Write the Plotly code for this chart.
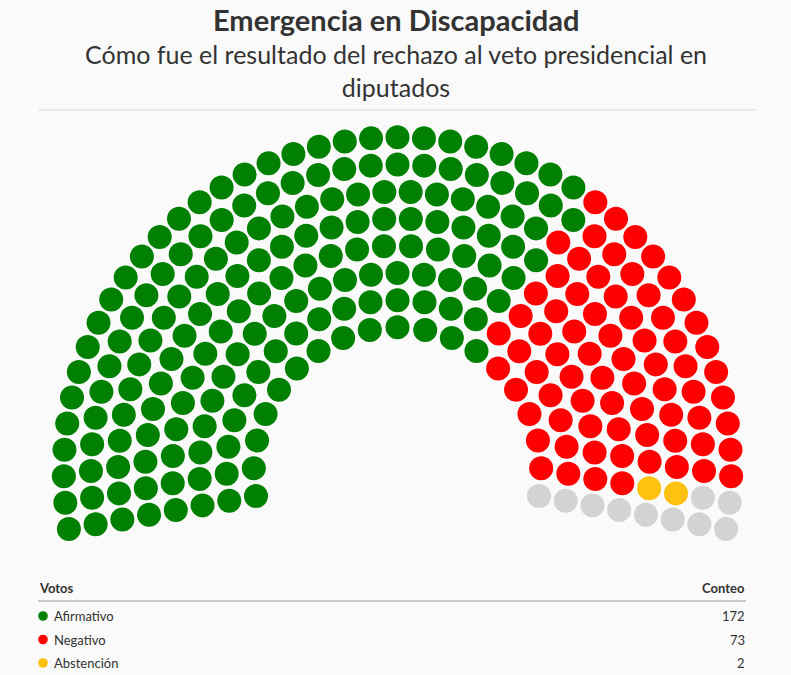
import numpy as np
import plotly.graph_objects as go

# ---- data ----
parties = ["Afirmativo", "Negativo", "Abstención", "Ausente"]
seats = [172, 73, 2, 10]
colors = ["#008000", "#ff0000", "#ffc20e", "#d3d3d3"]
table_rows = 3  # rows visible in the table

title = "Emergencia en Discapacidad"
subtitle = "Cómo fue el resultado del rechazo al veto presidencial en<br>diputados"
col_left = "Votos"
col_right = "Conteo"

# ---- layout geometry (pixels) ----
W, H = 791, 675
cx, cy = 397.5, 471.0          # hemicycle centre in page pixels
n_rows = 8
r_in, r_step = 143.7, 27.14
ang_start, ang_end = 190.0, -10.0
dot = 24

total = sum(seats)
radii = r_in + r_step * np.arange(n_rows)
quota = total * radii / radii.sum()
per_row = np.floor(quota).astype(int)
rem = quota - per_row
for i in np.argsort(-rem)[: total - per_row.sum()]:
    per_row[i] += 1

pts = []
for k, (r, n) in enumerate(zip(radii, per_row)):
    angs = np.linspace(ang_start, ang_end, n)
    for a in angs:
        pts.append((a, -k, r))
pts.sort(key=lambda p: (-p[0], p[1]))
pts = np.array(pts)
ang = np.radians(pts[:, 0])
xs = pts[:, 2] * np.cos(ang)
ys = pts[:, 2] * np.sin(ang)

fig = go.Figure()
start = 0
for name, n, c in zip(parties, seats, colors):
    fig.add_trace(go.Scatter(
        x=xs[start:start + n], y=ys[start:start + n], mode="markers",
        marker=dict(size=dot, color=c, line=dict(width=0)),
        name=name, hoverinfo="name", showlegend=False))
    start += n

font = "Lato, 'Source Sans Pro', sans-serif"
def py(p):
    return 1 - p / H

ann = [
    dict(text=f"<b>{title}</b>", x=0.5, y=py(0.5), yanchor="top", font=dict(size=29, color="#333333")),
    dict(text=subtitle, x=0.5, y=py(71), font=dict(size=25, color="#333333")),
    dict(text=f"<b>{col_left}</b>", x=37 / W, y=py(588), xanchor="left", font=dict(size=13, color="#333333")),
    dict(text=f"<b>{col_right}</b>", x=747 / W, y=py(588), xanchor="right", font=dict(size=13, color="#333333")),
]
shapes = [
    dict(type="line", xref="paper", yref="paper", x0=38 / W, x1=757 / W, y0=py(110), y1=py(110),
         line=dict(color="#d9d9d9", width=1)),
    dict(type="line", xref="paper", yref="paper", x0=38 / W, x1=746 / W, y0=py(601), y1=py(601),
         line=dict(color="#9a9a9a", width=1)),
]
row_y = [616, 639.5, 663]
for i in range(table_rows):
    ann.append(dict(text=parties[i], x=52 / W, y=py(row_y[i]), xanchor="left",
                    font=dict(size=13, color="#333333")))
    ann.append(dict(text=str(seats[i]), x=747 / W, y=py(row_y[i]), xanchor="right",
                    font=dict(size=13, color="#333333")))
    shapes.append(dict(type="circle", xref="paper", yref="paper",
                       x0=(43 - 4.8) / W, x1=(43 + 4.8) / W,
                       y0=py(row_y[i] + 4.8), y1=py(row_y[i] - 4.8),
                       fillcolor=colors[i], line=dict(width=0)))
for a in ann:
    a.update(xref="paper", yref="paper", showarrow=False)
    a.setdefault("yanchor", "middle")
    a.setdefault("xanchor", "center")

fig.update_layout(
    width=W, height=H, autosize=False,
    margin=dict(l=0, r=0, t=0, b=0, pad=0),
    paper_bgcolor="#fafafa", plot_bgcolor="#fafafa",
    font=dict(family=font, color="#333333"),
    xaxis=dict(range=[-cx, W - cx], visible=False, fixedrange=True),
    yaxis=dict(range=[cy - H, cy], visible=False, fixedrange=True),
    annotations=ann, shapes=shapes,
)
fig.write_html("out.html")
